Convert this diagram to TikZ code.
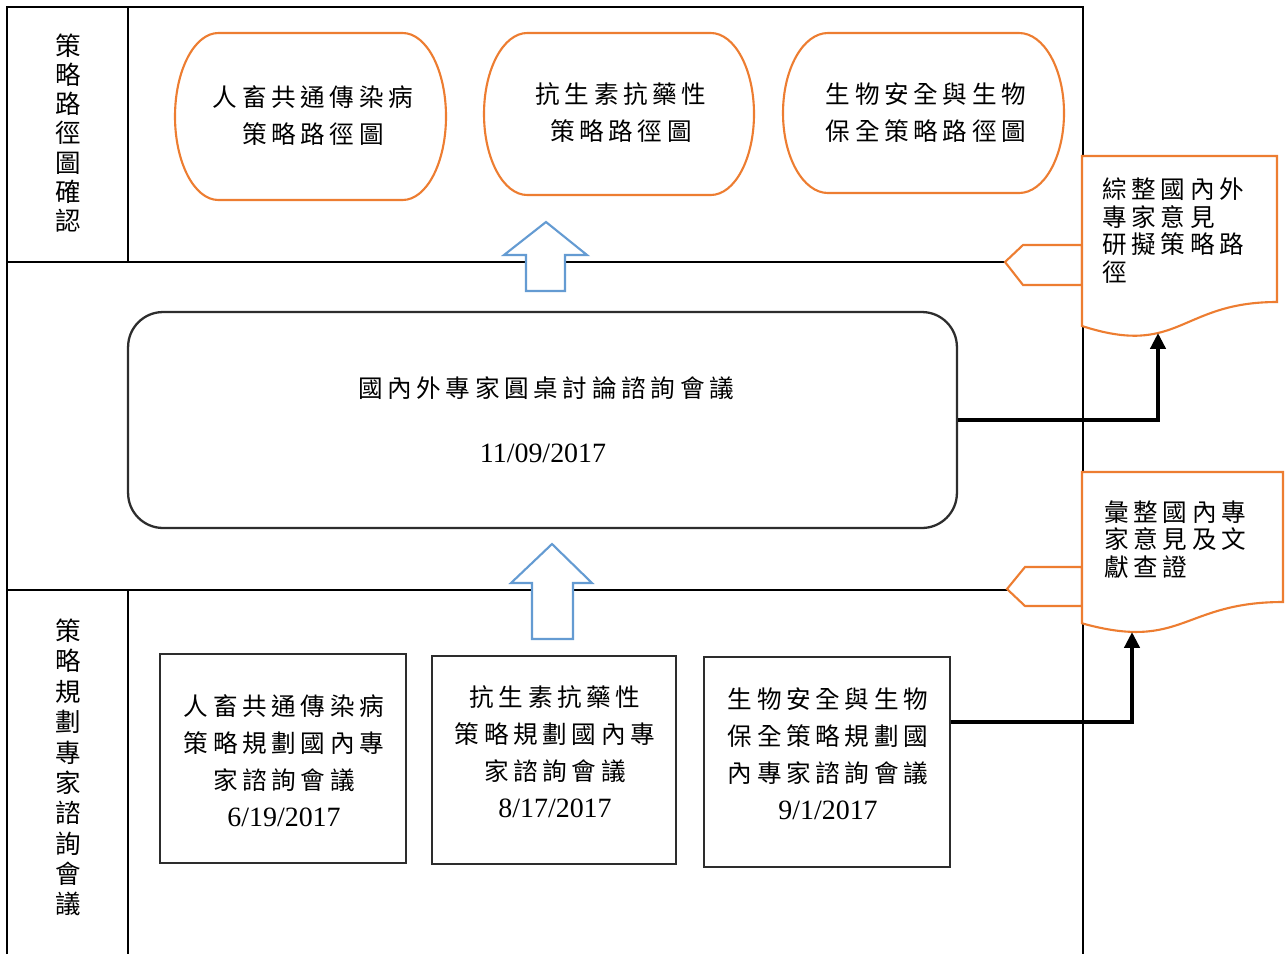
\documentclass[tikz,border=0pt]{standalone}
\usepackage{fontspec}
\setmainfont{Liberation Serif}
\newfontfamily\cjk[LetterSpace=19]{Noto Sans CJK TC}
\newfontfamily\cjkplain{Noto Sans CJK TC}
\usetikzlibrary{arrows.meta}
\definecolor{orng}{RGB}{237,125,49}
\definecolor{arrblue}{RGB}{100,155,210}
\definecolor{dkline}{RGB}{45,45,45}
\newcommand\datef{\rmfamily\fontsize{15.9pt}{21pt}\selectfont}
\newcommand\myterm[4]{%
  \pgfmathsetmacro\tA{#1}\pgfmathsetmacro\tB{#2}\pgfmathsetmacro\tC{#3}\pgfmathsetmacro\tD{#4}%
  \pgfmathsetmacro\trx{0.16*(\tC-\tA)}\pgfmathsetmacro\try{(\tD-\tB)/2}%
  \pgfmathsetmacro\tkx{0.5523*\trx}\pgfmathsetmacro\tky{0.5523*\try}\pgfmathsetmacro\tym{(\tB+\tD)/2}%
  \draw[term] (\tA+\trx,\tB) -- (\tC-\trx,\tB)
    .. controls (\tC-\trx+\tkx,\tB) and (\tC,\tym-\tky) .. (\tC,\tym)
    .. controls (\tC,\tym+\tky) and (\tC-\trx+\tkx,\tD) .. (\tC-\trx,\tD)
    -- (\tA+\trx,\tD)
    .. controls (\tA+\trx-\tkx,\tD) and (\tA,\tym+\tky) .. (\tA,\tym)
    .. controls (\tA,\tym-\tky) and (\tA+\trx-\tkx,\tB) .. (\tA+\trx,\tB) -- cycle;}
\begin{document}
\begin{tikzpicture}[x=0.02cm,y=-0.02cm,
  frameline/.style={line width=0.9pt, draw=black},
  term/.style={draw=orng, line width=1.2pt, fill=white},
  docshape/.style={draw=orng, line width=1.2pt, fill=white, line join=miter},
  hollow/.style={draw=arrblue, line width=1.2pt, fill=white, line join=miter},
  midbox/.style={draw=dkline, line width=1.3pt, rounded corners=0.7cm, inner sep=0pt, minimum width=16.58cm, minimum height=4.32cm},
  plainbox/.style={draw=dkline, line width=0.9pt, inner sep=0pt},
  cjkblock/.style={font=\cjk\fontsize{14pt}{21pt}\selectfont, align=center, inner sep=0pt, text=black},
  doctext/.style={font=\cjk\fontsize{14pt}{15.6pt}\selectfont, align=left, inner sep=0pt, anchor=west, text=black},
  datenode/.style={font=\datef, inner sep=0pt, text=black},
  thickarr/.style={draw=black, line width=2.3pt, line join=miter, -{Triangle[length=9pt,width=8.5pt]}}
]
\useasboundingbox (0,0) rectangle (1287,954);
\fill[white] (0,0) rectangle (1287,954);

% frame of the table
\draw[frameline] (7,954) -- (7,7) -- (1083,7) -- (1083,954);
\draw[frameline] (7,262) -- (1083,262);
\draw[frameline] (7,590) -- (1083,590);
\draw[frameline] (128,7) -- (128,262);
\draw[frameline] (128,590) -- (128,954);

% left column labels
\node[font=\cjkplain\fontsize{14.5pt}{16.6pt}\selectfont, align=center, inner sep=0pt] (lc1) at (68,133) {策\\略\\路\\徑\\圖\\確\\認};
\node[font=\cjkplain\fontsize{14.5pt}{17.3pt}\selectfont, align=center, inner sep=0pt] (lc2) at (68,767.5) {策\\略\\規\\劃\\專\\家\\諮\\詢\\會\\議};

% top terminator boxes
\myterm{175}{33}{446}{200}
\myterm{484}{33}{754}{195}
\myterm{783}{33}{1064}{193}
\node[cjkblock] (t1) at (313,115.5) {人畜共通傳染病\\策略路徑圖};
\node[cjkblock] (t2) at (621,112.5) {抗生素抗藥性\\策略路徑圖};
\node[cjkblock] (t3) at (926,112.5) {生物安全與生物\\保全策略路徑圖};

% hollow up arrows
\draw[hollow] (546,222) -- (587,255) -- (565,255) -- (565,291) -- (526,291) -- (526,255) -- (504,255) -- cycle;
\draw[hollow] (552,544) -- (592,583) -- (573,583) -- (573,639) -- (532,639) -- (532,583) -- (511,583) -- cycle;

% middle rounded box
\node[midbox] (mid) at (542.5,420) {};
\node[cjkblock] (midt) at (546,388) {國內外專家圓桌討論諮詢會議};
\node[datenode] (midd) at (543,453) {11/09/2017};

% bottom boxes
\node[plainbox, minimum width=4.92cm, minimum height=4.18cm] (b1) at (283,758.5) {};
\node[plainbox, minimum width=4.88cm, minimum height=4.16cm] (b2) at (554,760) {};
\node[plainbox, minimum width=4.92cm, minimum height=4.2cm] (b3) at (827,762) {};
\node[cjkblock] (b1t) at (284,761) {人畜共通傳染病\\策略規劃國內專\\家諮詢會議\\{\datef 6/19/2017}};
\node[cjkblock] (b2t) at (555,752) {抗生素抗藥性\\策略規劃國內專\\家諮詢會議\\{\datef 8/17/2017}};
\node[cjkblock] (b3t) at (828,754) {生物安全與生物\\保全策略規劃國\\內專家諮詢會議\\{\datef 9/1/2017}};

% right document shapes with tags
\draw[docshape] (1082,245) -- (1023,245) -- (1005,262) -- (1023,285) -- (1082,285) -- cycle;
\draw[docshape] (1082,156) -- (1277,156) -- (1277,302) .. controls (1179.5,302) and (1179.5,357.6) .. (1082,326) -- cycle;
\draw[docshape] (1082,567) -- (1025,567) -- (1007,589) -- (1025,606) -- (1082,606) -- cycle;
\draw[docshape] (1082,472) -- (1283,472) -- (1283,602) .. controls (1182.5,602) and (1182.5,651.4) .. (1082,623.3) -- cycle;
\node[doctext] (d1t) at (1102,230.5) {綜整國內外\\專家意見\\研擬策略路\\徑};
\node[doctext] (d2t) at (1104,539.5) {彙整國內專\\家意見及文\\獻查證};

% thick connectors
\coordinate (d1b) at (1158,333);
\coordinate (d2b) at (1132,632);
\draw[thickarr] (mid.east) -| (d1b);
\draw[thickarr] ([yshift=22.7pt]b3.east) -| (d2b);
\end{tikzpicture}
\end{document}
